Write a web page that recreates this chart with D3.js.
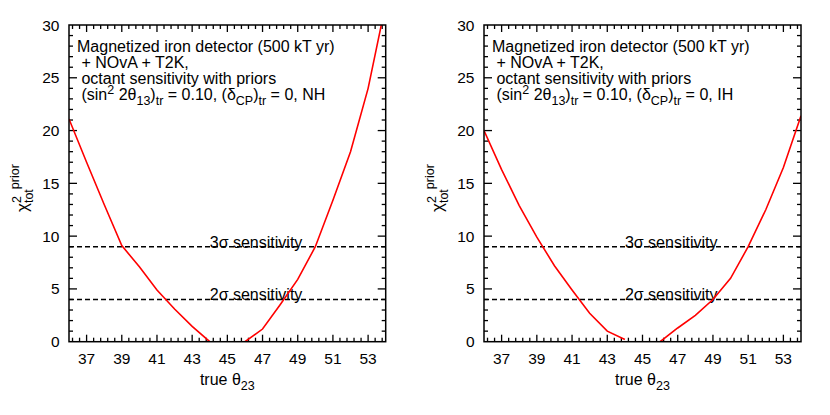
<!DOCTYPE html>
<html><head><meta charset="utf-8">
<script src="https://cdn.jsdelivr.net/npm/d3@7/dist/d3.min.js"></script>
<style>
body{margin:0;background:#fff}
text{font-family:"Liberation Sans",Arial,Helvetica,sans-serif;fill:#000;white-space:pre}
</style>
</head><body>
<svg id="c" width="830" height="415"></svg>
<script>
// ---- data ----
const theta23Lower = [36, 37, 38, 39, 40, 41, 42, 43, 44];
const theta23Upper = [46, 47, 48, 49, 50, 51, 52, 53, 54];
const chiNHLower = [21.1, 17.0, 13.0, 9.1, 7.1, 4.9, 3.1, 1.45, 0.0];
const chiNHUpper = [0.0, 1.2, 3.5, 5.9, 9.0, 13.4, 18.0, 24.0, 32.0];
const chiIHLower = [20.0, 16.3, 12.9, 9.9, 7.2, 4.9, 2.7, 1.0, 0.2];
const chiIHUpper = [0.0, 1.3, 2.5, 4.0, 6.0, 9.0, 12.5, 16.5, 21.4];
const xTicks = [37, 39, 41, 43, 45, 47, 49, 51, 53];
const yTicks = [0, 5, 10, 15, 20, 25, 30];
const sigmaLevels = [9, 4];
const sigmaLabels = ["3σ", "2σ"];
const hierarchies = ["NH", "IH"];

// ---- layout ----
const svg = d3.select("#c");
const plotTop = 25, plotBottom = 341.7;
const panels = [
  {left: 69, right: 385.7, lower: chiNHLower, upper: chiNHUpper, hier: hierarchies[0]},
  {left: 484, right: 801, lower: chiIHLower, upper: chiIHUpper, hier: hierarchies[1]}
];

function rich(sel, segs, base, small) {
  let cur = 0;
  segs.forEach(([t, k]) => {
    const off = k === 'sup' ? -6 : k === 'sub' ? 4.5 : 0;
    sel.append('tspan').attr('dy', off - cur).attr('font-size', k ? small : base).text(t);
    cur = off;
  });
}

panels.forEach((p, i) => {
  const x = d3.scaleLinear().domain([36, 54]).range([p.left, p.right]);
  const y = d3.scaleLinear().domain([0, 30]).range([plotBottom, plotTop]);
  const g = svg.append('g');
  const cid = 'clip' + i;
  svg.append('clipPath').attr('id', cid).append('rect')
    .attr('x', p.left).attr('y', plotTop).attr('width', p.right - p.left).attr('height', plotBottom - plotTop);

  // ticks (inward, mirrored)
  const minorX = d3.range(-2, 43).map(k => 37 + k * 0.4).filter(v => v > 36.01 && v < 53.99);
  const minorY = d3.range(1, 30).filter(v => v % 5 !== 0);
  const tk = g.append('g').attr('stroke', '#000').attr('stroke-width', 1.3);
  const addX = (vals, len) => vals.forEach(v => {
    tk.append('line').attr('x1', x(v)).attr('x2', x(v)).attr('y1', plotBottom).attr('y2', plotBottom - len);
    tk.append('line').attr('x1', x(v)).attr('x2', x(v)).attr('y1', plotTop).attr('y2', plotTop + len);
  });
  const addY = (vals, len) => vals.forEach(v => {
    tk.append('line').attr('y1', y(v)).attr('y2', y(v)).attr('x1', p.left).attr('x2', p.left + len);
    tk.append('line').attr('y1', y(v)).attr('y2', y(v)).attr('x1', p.right).attr('x2', p.right - len);
  });
  addX(xTicks, 7); addX(minorX.filter(v => !xTicks.some(t => Math.abs(t - v) < 1e-6)), 4);
  addY(yTicks.filter(v => v > 0 && v < 30), 8); addY(minorY, 4);

  // tick labels
  g.selectAll('.xl').data(xTicks).enter().append('text')
    .attr('x', d => x(d)).attr('y', plotBottom + 22).attr('text-anchor', 'middle')
    .attr('font-size', 15.5).text(d => d);
  g.selectAll('.yl').data(yTicks).enter().append('text')
    .attr('x', p.left - 9.5).attr('y', d => y(d) + 5.5).attr('text-anchor', 'end')
    .attr('font-size', 15.5).text(d => d);

  // dashed sigma lines
  sigmaLevels.forEach((s, j) => {
    g.append('line').attr('x1', x(36)).attr('x2', x(54)).attr('y1', y(s)).attr('y2', y(s))
      .attr('stroke', '#000').attr('stroke-width', 1.5).attr('stroke-dasharray', '5,3');
    g.append('text').attr('x', x(44)).attr('y', y(s) + 1).attr('font-size', 16)
      .text(sigmaLabels[j] + ' sensitivity');
  });

  // curves
  const line = d3.line().x(d => x(d[0])).y(d => y(d[1]));
  [[theta23Lower, p.lower], [theta23Upper, p.upper]].forEach(([xs, ys]) => {
    g.append('path').attr('d', line(xs.map((v, k) => [v, ys[k]])))
      .attr('clip-path', `url(#${cid})`)
      .attr('fill', 'none').attr('stroke', '#ff0000').attr('stroke-width', 1.6);
  });

  // frame
  g.append('rect').attr('x', p.left).attr('y', plotTop).attr('width', p.right - p.left).attr('height', plotBottom - plotTop)
    .attr('fill', 'none').attr('stroke', '#000').attr('stroke-width', 1.5);

  // annotation
  const tx = p.left + 8;
  g.append('text').attr('x', tx).attr('y', 52).attr('font-size', 16).text('Magnetized iron detector (500 kT yr)');
  g.append('text').attr('x', tx).attr('y', 67.5).attr('font-size', 16).text(' + NOvA + T2K,');
  g.append('text').attr('x', tx).attr('y', 84).attr('font-size', 16).text(' octant sensitivity with priors');
  const t4 = g.append('text').attr('x', tx).attr('y', 100);
  rich(t4, [[' (sin'], ['2', 'sup'], [' 2θ'], ['13', 'sub'], [')'], ['tr', 'sub'], [' = 0.10, (δ'], ['CP', 'sub'], [')'], ['tr', 'sub'], [' = 0, ' + p.hier]], 16, 12.5);

  // x label
  const xl = g.append('text').attr('x', (p.left + p.right) / 2).attr('y', 385).attr('text-anchor', 'middle');
  rich(xl, [['true θ'], ['23', 'sub']], 16, 12.5);

  // y label (rotated, reads bottom-to-top)
  const yg = g.append('g').attr('transform', `translate(${p.left - 41},212) rotate(-90)`);
  const chi = yg.append('text').attr('font-size', 17).text('χ');
  const wc = chi.node().getComputedTextLength();
  yg.append('text').attr('x', wc).attr('y', -7.5).attr('font-size', 12.5).text('2');
  const tot = yg.append('text').attr('x', wc).attr('y', 4.5).attr('font-size', 12.5).text('tot');
  const wt = tot.node().getComputedTextLength();
  yg.append('text').attr('x', wc + wt).attr('y', -9.5).attr('font-size', 12.5).text('prior');
});
</script>
</body></html>
